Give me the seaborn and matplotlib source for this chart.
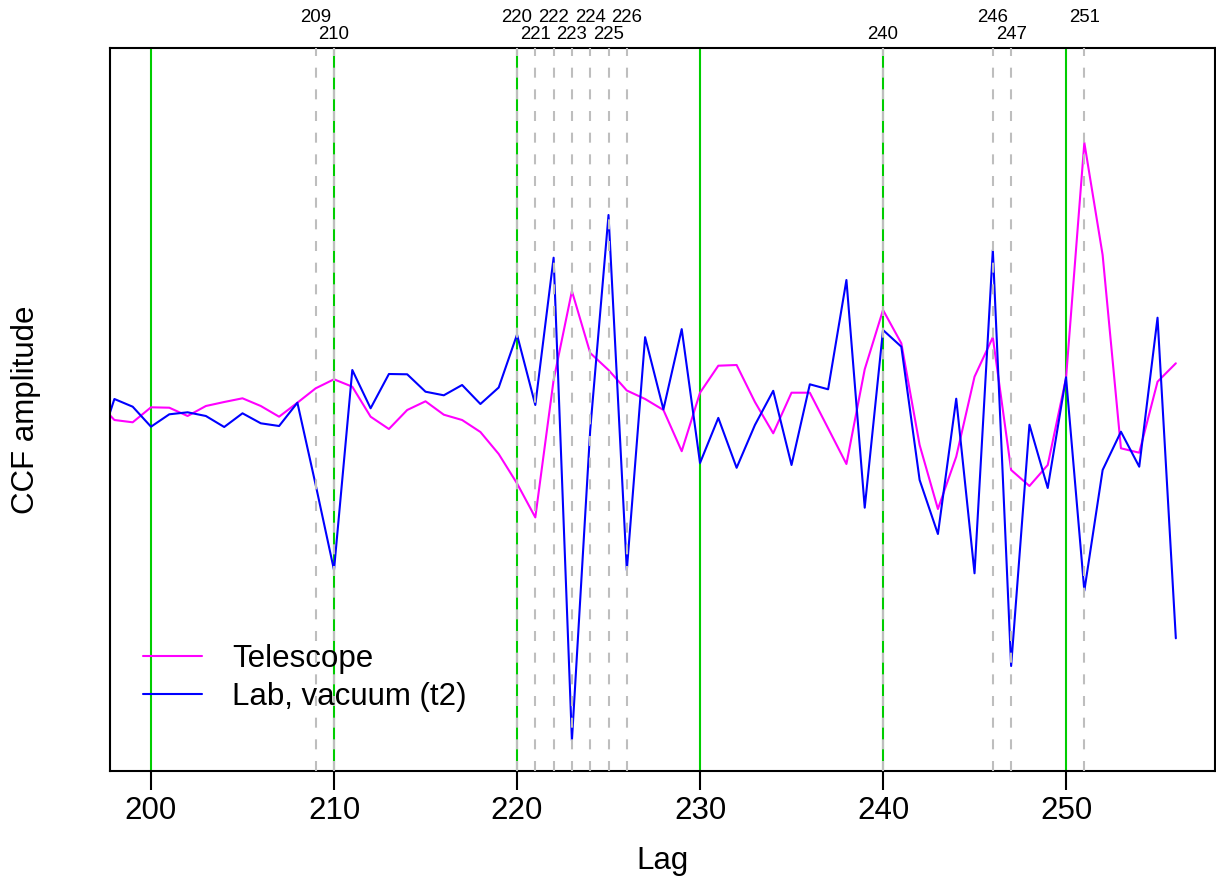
import numpy as np
import pandas as pd
import matplotlib
matplotlib.use("Agg")
import matplotlib.pyplot as plt
import matplotlib.transforms as mtransforms
import seaborn as sns

# ---- data ----
lags = list(range(197, 257))
telescope = [-0.0005, -0.020, -0.0223, -0.0073, -0.0077, -0.016, -0.006, -0.002, 0.0017, -0.006,
             -0.0167, -0.0027, 0.0117, 0.0207, 0.0133, -0.0167, -0.029, -0.010, -0.0013, -0.0147,
             -0.020, -0.032, -0.054, -0.0834, -0.1174, 0.020, 0.109, 0.047, 0.030, 0.0095,
             0.001, -0.010, -0.0512, 0.0073, 0.0343, 0.035, -0.002, -0.0333, 0.0073, 0.0073,
             -0.0283, -0.064, 0.0307, 0.090, 0.0567, -0.045, -0.109, -0.0567, 0.0233, 0.0627,
             -0.070, -0.086, -0.065, 0.022, 0.2573, 0.145, -0.0483, -0.0527, 0.0183, 0.0367]
lab_vacuum = [-0.055, 0.001, -0.0067, -0.0267, -0.0143, -0.0123, -0.016, -0.027, -0.0133, -0.0233,
              -0.026, -0.0027, -0.085, -0.170, 0.030, -0.0083, 0.026, 0.0257, 0.0083, 0.0047,
              0.015, -0.004, 0.0125, 0.0654, -0.005, 0.1423, -0.3405, -0.030, 0.185, -0.1703,
              0.0628, -0.0094, 0.0709, -0.063, -0.0179, -0.0678, -0.025, 0.0092, -0.065, 0.0157,
              0.0107, 0.120, -0.1077, 0.070, 0.0533, -0.080, -0.134, 0.0013, -0.1733, 0.150,
              -0.266, -0.0247, -0.088, 0.0227, -0.1907, -0.070, -0.0317, -0.0667, 0.0823, -0.2383]
series_names = ["Telescope", "Lab, vacuum (t2)"]
series_colors = ["#FF00FF", "#0000FF"]
green_lags = [200, 210, 220, 230, 240, 250]
marked_lags = [209, 210, 220, 221, 222, 223, 224, 225, 226, 240, 246, 247, 251]
xticks = [200, 210, 220, 230, 240, 250]

df = pd.DataFrame({
    "Lag": lags * 2,
    "CCF": telescope + lab_vacuum,
    "series": [series_names[0]] * len(lags) + [series_names[1]] * len(lags),
})

sns.set_style("white")
plt.rcParams["font.family"] = ["Liberation Sans", "DejaVu Sans"]
plt.rcParams["text.color"] = "black"
plt.rcParams["axes.labelcolor"] = "black"
plt.rcParams["xtick.color"] = "black"
plt.rcParams["ytick.color"] = "black"

fig = plt.figure(figsize=(12.16, 8.8), dpi=100)
ax = fig.add_axes([110 / 1216, 1 - 771 / 880, (1215 - 110) / 1216, (771 - 48) / 880])

for xv in green_lags:
    ax.axvline(xv, color="#00CD00", lw=1.5, zorder=1)

sns.lineplot(data=df, x="Lag", y="CCF", hue="series", palette=series_colors,
             hue_order=series_names, lw=1.5, legend=False, ax=ax, zorder=2)

for xv in marked_lags:
    ax.axvline(xv, color="#BEBEBE", lw=1.5, ls=(0, (4.8, 5.6)), zorder=3)

ax.set_xlim(197.76, 258.14)
ax.set_ylim(-0.371, 0.352)
ax.set_xticks(xticks)
ax.set_xticklabels([str(t) for t in xticks])
ax.set_yticks([])
ax.tick_params(axis="x", bottom=True, length=13.7, width=1.5, pad=4,
               labelsize=22.5, color="black", labelcolor="black", direction="out")
for sp in ax.spines.values():
    sp.set_visible(True)
    sp.set_color("black")
    sp.set_linewidth(1.5)

ax.set_xlabel("Lag", fontsize=22.5, labelpad=15, color="black")
ax.set_ylabel("CCF amplitude", fontsize=22.5, labelpad=50, color="black")

# top labels for marked lags (alternating rows)
trans = mtransforms.blended_transform_factory(ax.transData, ax.transAxes)
for i, xv in enumerate(marked_lags):
    yv = 1.0364 if i % 2 == 0 else 1.012
    ax.text(xv, yv, str(xv), transform=trans, ha="center", va="baseline",
            fontsize=13.4, color="black", clip_on=False)

handles = ax.get_lines()
data_lines = [l for l in handles if len(l.get_xdata()) > 2]
leg = ax.legend(data_lines, series_names, loc="upper left",
                bbox_to_anchor=(143 / 1216, 1 - 644 / 880), bbox_transform=fig.transFigure,
                frameon=False, fontsize=22.5, handlelength=1.9, handletextpad=0.95,
                labelspacing=0.26, borderpad=0, borderaxespad=0)
for t in leg.get_texts():
    t.set_color("black")

fig.savefig("out.png", dpi=100)
